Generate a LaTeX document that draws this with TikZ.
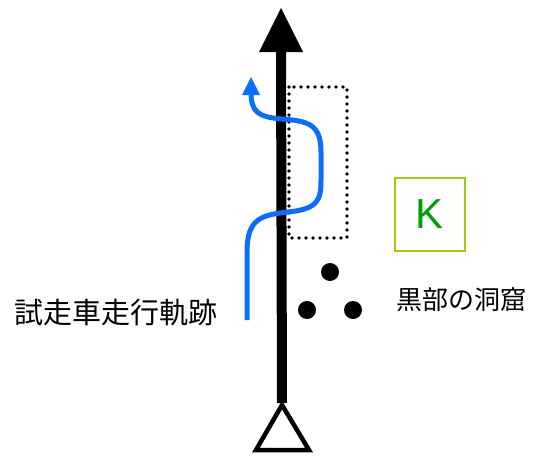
\documentclass[tikz,border=0pt]{standalone}
\usepackage{fontspec}
\newfontfamily\jp{Noto Sans CJK JP}
\newfontfamily\lat{Liberation Sans}
\definecolor{trackblue}{RGB}{10,110,250}
\definecolor{kgreen}{RGB}{0,160,0}
\definecolor{kframe}{RGB}{155,205,20}
\begin{document}
\begin{tikzpicture}[x=1pt,y=-1pt,
  shaft/.style={line width=10pt},
  headfill/.style={fill=black},
  track/.style={trackblue,line width=5pt},
  dottedbox/.style={line width=3.6pt,line cap=round,dash pattern=on 0pt off 7pt},
  hole/.style={circle,fill=black,minimum size=18pt,inner sep=0pt},
  lbl/.style={inner sep=0pt,font=\jp},
]
\useasboundingbox (0,0) rectangle (543,455);
% start triangle
\draw[line width=4.5pt,line join=miter,fill=white] (282,405) -- (309,450) -- (256,450) -- cycle;
\coordinate (base) at (282,403);
\coordinate (tiptop) at (281,52);
\draw[shaft] (base) -- (tiptop);
\fill[headfill] (281,8) -- (303,52) -- (259,52) -- cycle;
% dotted region
\draw[dottedbox] (289,87) rectangle (347,238);
% test track
\coordinate (tstart) at (247,320);
\coordinate (tend) at (251,92);
\draw[track] (tstart) -- (247,252) .. controls (247,218) and (262,215) .. (288,212)
  .. controls (318,209) and (321,200) .. (321,180) -- (321,152)
  .. controls (321,124) and (308,121) .. (282,119)
  .. controls (258,117) and (251,112) .. (tend);
\fill[trackblue] (251,77) -- (260,95) -- (242,95) -- cycle;
% K box
\node[draw=kframe,line width=2pt,minimum width=70pt,minimum height=73pt,inner sep=0pt,
  text=kgreen,font=\lat\fontsize{42}{42}\selectfont] (K) at (430,214.5) {K};
% holes
\node[hole] (h1) at (330,272) {};
\node[hole] (h2) at (307,310) {};
\node[hole] (h3) at (353,310) {};
\node[lbl,anchor=west,font=\jp\fontsize{26}{26}\selectfont] (cave) at (396,300) {黒部の洞窟};
\node[lbl,anchor=west,font=\jp\fontsize{29}{30}\selectfont] (trk) at (14,313) {試走車走行軌跡};
\end{tikzpicture}
\end{document}
